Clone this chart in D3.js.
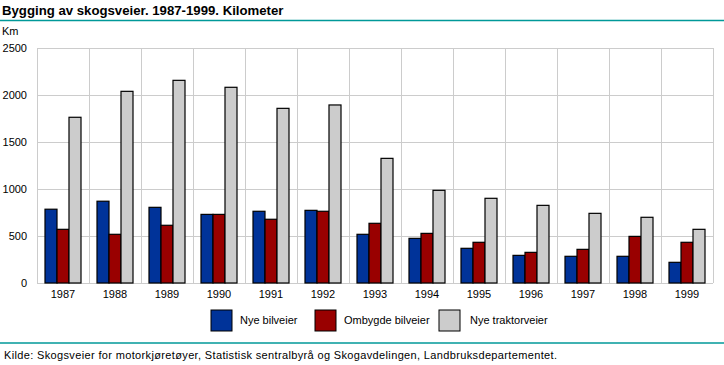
<!DOCTYPE html>
<html><head><meta charset="utf-8">
<script src="https://cdn.jsdelivr.net/npm/d3@7"></script>
<style>body{margin:0;background:#fff}svg{display:block}text{font-family:"Liberation Sans",Arial,sans-serif;fill:#000}</style>
</head><body>
<script>
const years = ["1987","1988","1989","1990","1991","1992","1993","1994","1995","1996","1997","1998","1999"];
const nyeBilveier = [785, 870, 805, 730, 763, 773, 518, 475, 369, 294, 284, 284, 220];
const ombygdeBilveier = [571, 518, 614, 730, 678, 763, 635, 528, 433, 326, 358, 496, 433];
const nyeTraktorveier = [1763, 2039, 2156, 2082, 1858, 1894, 1326, 986, 901, 826, 741, 699, 571];
const seriesNames = ["Nye bilveier", "Ombygde bilveier", "Nye traktorveier"];
const seriesColors = ["#003399", "#990000", "#cccccc"];
const yTicks = [0, 500, 1000, 1500, 2000, 2500];

(function () {
const W = 724, H = 365;
const svg = d3.select("body").append("svg").attr("width", W).attr("height", H);
const pLeft = 37, pRight = 713, pTop = 48, pBottom = 283;

svg.append("text").attr("x", 2).attr("y", 15).attr("font-size", 13.2).attr("font-weight", "bold").text("Bygging av skogsveier. 1987-1999. Kilometer");
svg.append("line").attr("x1", 0).attr("x2", W).attr("y1", 20.5).attr("y2", 20.5).attr("stroke", "#009999").attr("stroke-width", 1.5);
svg.append("text").attr("x", 2).attr("y", 35).attr("font-size", 11).text("Km");

const x = d3.scaleBand().domain(years).range([pLeft, pRight]).paddingInner(0).paddingOuter(0);
const y = d3.scaleLinear().domain([0, 2500]).range([pBottom, pTop]);
const xs = d3.scaleBand().domain(seriesNames).range([8, x.bandwidth() - 8]);

const g = svg.append("g");
g.selectAll(".h").data(yTicks).join("line").attr("x1", pLeft).attr("x2", pRight)
  .attr("y1", d => Math.round(y(d)) + 0.5).attr("y2", d => Math.round(y(d)) + 0.5).attr("stroke", "#cccccc");
g.selectAll(".v").data(years.concat(["end"])).join("line")
  .attr("x1", (d, i) => Math.round(pLeft + i * x.bandwidth()) + 0.5)
  .attr("x2", (d, i) => Math.round(pLeft + i * x.bandwidth()) + 0.5)
  .attr("y1", pTop).attr("y2", pBottom).attr("stroke", "#cccccc");

svg.selectAll(".yl").data(yTicks).join("text").attr("x", 27).attr("y", d => y(d) + 4)
  .attr("text-anchor", "end").attr("font-size", 11).text(d => d);

const data = [nyeBilveier, ombygdeBilveier, nyeTraktorveier];
years.forEach((yr, i) => {
  seriesNames.forEach((s, j) => {
    const v = data[j][i];
    svg.append("rect")
      .attr("x", x(yr) + xs(s)).attr("width", xs.bandwidth())
      .attr("y", y(v)).attr("height", pBottom - y(v))
      .attr("fill", seriesColors[j]).attr("stroke", "#000").attr("stroke-width", 1.2);
  });
});

svg.selectAll(".xl").data(years).join("text").attr("x", d => x(d) + x.bandwidth() / 2).attr("y", 298)
  .attr("text-anchor", "middle").attr("font-size", 11).text(d => d);

const legX = [211, 315, 439];
seriesNames.forEach((s, j) => {
  svg.append("rect").attr("x", legX[j]).attr("y", 310).attr("width", 21).attr("height", 21)
    .attr("fill", seriesColors[j]).attr("stroke", "#000").attr("stroke-width", 1);
  svg.append("text").attr("x", legX[j] + 29 + (j === 2 ? 2 : 0)).attr("y", 324).attr("font-size", 11).text(s);
});

svg.append("line").attr("x1", 0).attr("x2", W).attr("y1", 343).attr("y2", 343).attr("stroke", "#009999").attr("stroke-width", 1.5);
svg.append("text").attr("x", 4).attr("y", 359).attr("font-size", 11)
  .attr("textLength", 553).attr("lengthAdjust", "spacing")
  .text("Kilde: Skogsveier for motorkjøretøyer, Statistisk sentralbyrå og Skogavdelingen, Landbruksdepartementet.");
})();
</script>
</body></html>
